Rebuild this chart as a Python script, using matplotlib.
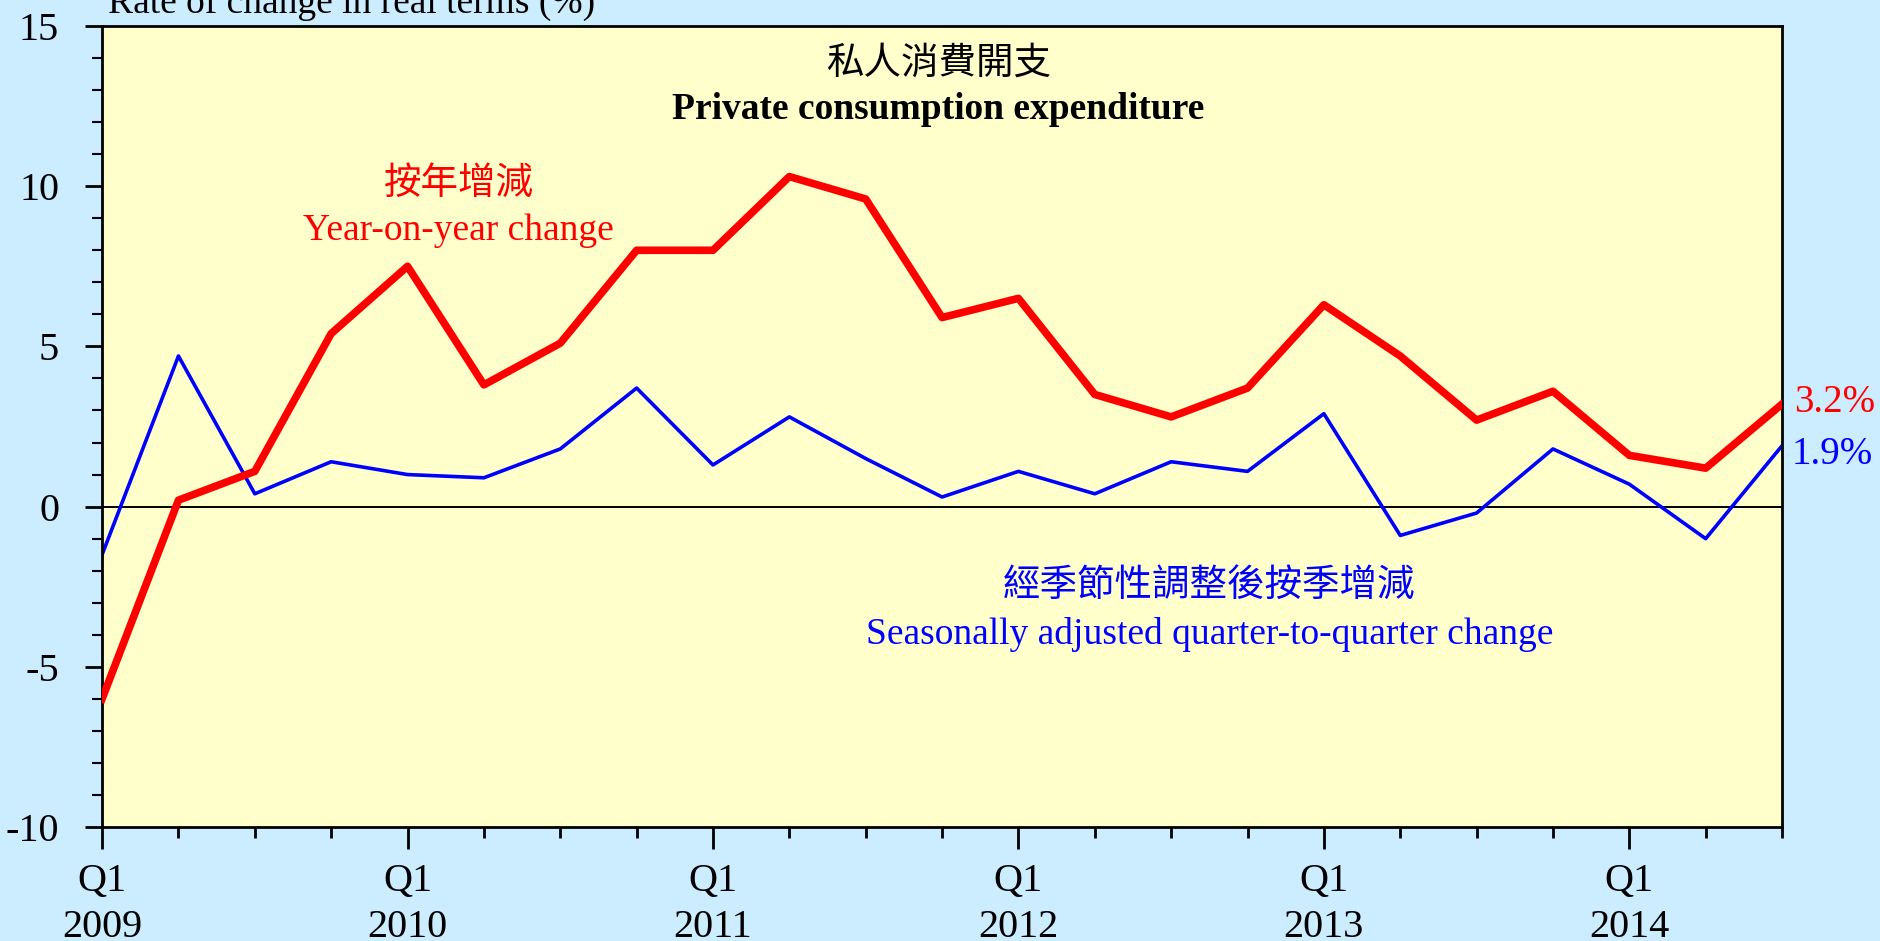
import matplotlib.pyplot as plt
from matplotlib.ticker import MultipleLocator
import numpy as np

# quarterly data, Q1 2009 .. Q3 2014
yoy = [-6.0, 0.2, 1.1, 5.4, 7.5, 3.8, 5.1, 8.0, 8.0, 10.3, 9.6, 5.9,
       6.5, 3.5, 2.8, 3.7, 6.3, 4.7, 2.7, 3.6, 1.6, 1.2, 3.2]
qoq = [-1.5, 4.7, 0.4, 1.4, 1.0, 0.9, 1.8, 3.7, 1.3, 2.8, 1.5, 0.3,
       1.1, 0.4, 1.4, 1.1, 2.9, -0.9, -0.2, 1.8, 0.7, -1.0, 1.9]
years = ["2009", "2010", "2011", "2012", "2013", "2014"]
year_labels = ["Q1\n" + y for y in years]

plt.rcParams['font.family'] = ['Liberation Serif', 'Noto Sans CJK TC']
plt.rcParams['axes.unicode_minus'] = False

x = np.arange(len(yoy))

fig = plt.figure(figsize=(18.8, 9.41), dpi=100, facecolor='#CCECFF')
ax = fig.add_axes([0.0543, 0.1211, 0.8936, 0.8513])
ax.set_facecolor('#FFFFCC')

ax.axhline(0, color='black', lw=1.4, zorder=1)
ax.plot(x, qoq, color='#0000FF', lw=2.6, zorder=2)
ax.plot(x, yoy, color='#FF0000', lw=5.5, zorder=3)

ax.set_xlim(0, len(yoy) - 1)
ax.set_ylim(-10, 15)
ax.yaxis.set_major_locator(MultipleLocator(5))
ax.yaxis.set_minor_locator(MultipleLocator(1))
ax.set_xticks(x[::4])
ax.set_xticklabels(year_labels)
ax.set_xticks(x, minor=True)
for t in ax.get_xticklabels():
    t.set_linespacing(1.3)

for s in ax.spines.values():
    s.set_linewidth(2)
ax.tick_params(axis='y', which='major', length=12, width=2, pad=19, labelsize=29)
ax.tick_params(axis='y', which='minor', length=7, width=1.5)
ax.tick_params(axis='x', which='major', length=16, width=2, pad=10, labelsize=29)
ax.tick_params(axis='x', which='minor', length=8, width=2)

fig.text(0.0575, 0.986, "Rate of change in real terms (%)", fontsize=27,
         ha='left', va='baseline')

ax.text(10.95, 13.8, "私人消費開支", fontsize=27, ha='center', va='center')
ax.text(10.95, 12.4, "Private consumption expenditure", fontsize=27,
        fontweight='bold', ha='center', va='center')
ax.text(4.67, 10.05, "按年增減", fontsize=27, color='#FF0000',
        ha='center', va='center')
ax.text(4.67, 8.6, "Year-on-year change", fontsize=27, color='#FF0000',
        ha='center', va='center')
ax.text(14.5, -2.5, "經季節性調整後按季增減", fontsize=27, color='#0000FF',
        ha='center', va='center')
ax.text(14.5, -4.0, "Seasonally adjusted quarter-to-quarter change",
        fontsize=27, color='#0000FF', ha='center', va='center')

ax.annotate(f"{yoy[-1]:.1f}%", (x[-1], yoy[-1]), xytext=(9, 1),
            textcoords='offset points', fontsize=28, color='#FF0000',
            va='center', annotation_clip=False)
ax.annotate(f"{qoq[-1]:.1f}%", (x[-1], qoq[-1]), xytext=(7, -6),
            textcoords='offset points', fontsize=28, color='#0000FF',
            va='center', annotation_clip=False)

fig.savefig("out.png", dpi=100, facecolor=fig.get_facecolor())
